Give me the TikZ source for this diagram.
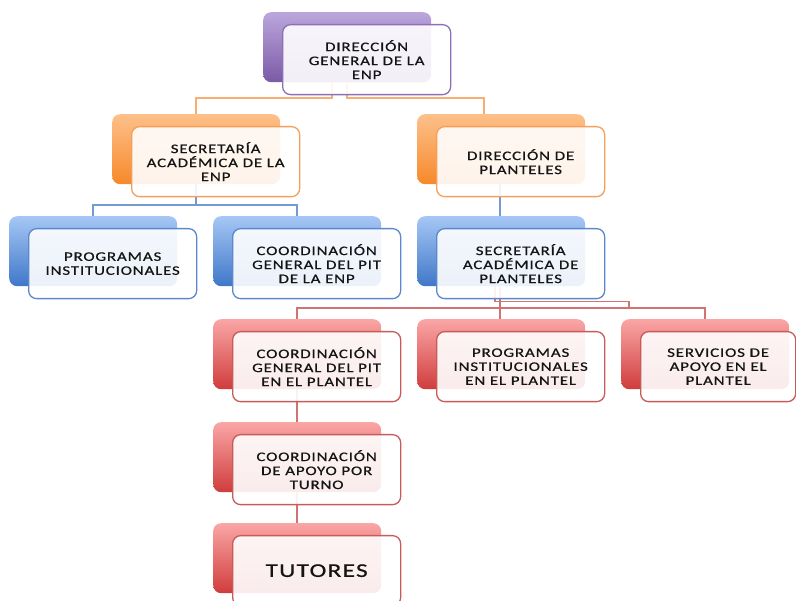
\documentclass[tikz,border=0pt]{standalone}
\usepackage{fontspec}
\setmainfont{Carlito}
\newfontfamily\boxfont[FakeStretch=1.3,LetterSpace=6.5,FakeBold=0.6]{Carlito}
\usetikzlibrary{calc}
\definecolor{ptop}{HTML}{BBA6DC}
\definecolor{pbot}{HTML}{7B5AA6}
\definecolor{pline}{HTML}{8C6FB5}
\definecolor{otop}{HTML}{FDC08A}
\definecolor{obot}{HTML}{F6892A}
\definecolor{oline}{HTML}{F5A05A}
\definecolor{btop}{HTML}{A6C7F5}
\definecolor{bbot}{HTML}{3F77C8}
\definecolor{bline}{HTML}{5A88CC}
\definecolor{rtop}{HTML}{FAA6A6}
\definecolor{rbot}{HTML}{D03C3C}
\definecolor{rline}{HTML}{C85A5A}
\definecolor{txt}{HTML}{141414}
\pgfdeclarelayer{bg}
\pgfsetlayers{bg,main}
\tikzset{
  backbox/.style={rectangle, rounded corners=8pt, minimum width=168pt, minimum height=70pt,
    anchor=north west, inner sep=0pt},
  frontbox/.style={rectangle, rounded corners=8pt, minimum width=168pt, minimum height=70pt,
    anchor=north west, fill=white, fill opacity=0.9, text opacity=1, line width=1.3pt,
    align=center, text=txt, font=\boxfont\fontsize{13}{14}\selectfont, inner sep=2pt},
  conn/.style={line width=1.6pt},
  oconn/.style={conn, draw=oline!85},
  bconn/.style={conn, draw=bline!85},
  rconn/.style={conn, draw=rline!85},
}
\newcommand\orgbox[5]{%
  \node[backbox, top color=#4top, bottom color=#4bot] (b#1) at (#2,#3) {};
  \node[frontbox, draw=#4line] (f#1) at ($(#2,#3)+(19,12)$) {#5};
}
\begin{document}
\begin{tikzpicture}[x=1pt,y=-1pt]
\useasboundingbox (0,0) rectangle (796,601);
\clip (0,0) rectangle (796,601);
\orgbox{1}{263}{12}{p}{DIRECCIÓN\\GENERAL DE LA\\ENP}
\orgbox{2}{112}{114}{o}{SECRETARÍA\\ACADÉMICA DE LA\\ENP}
\orgbox{3}{417}{114}{o}{DIRECCIÓN  DE\\PLANTELES}
\orgbox{4}{9}{216}{b}{PROGRAMAS\\INSTITUCIONALES}
\orgbox{5}{213}{216}{b}{COORDINACIÓN\\GENERAL DEL PIT\\DE LA ENP}
\orgbox{6}{417}{216}{b}{SECRETARÍA\\ACADÉMICA DE\\PLANTELES}
\orgbox{7}{213}{319}{r}{COORDINACIÓN\\GENERAL DEL PIT\\EN EL PLANTEL}
\orgbox{8}{417}{319}{r}{PROGRAMAS\\INSTITUCIONALES\\EN EL PLANTEL}
\node[backbox, top color=rtop, bottom color=rbot] (b9) at (621,319) {};
\node[frontbox, draw=rline, minimum width=155pt] (f9) at (640,331) {SERVICIOS DE\\APOYO  EN EL\\PLANTEL};
\orgbox{10}{213}{422}{r}{COORDINACIÓN\\DE APOYO POR\\TURNO}
\orgbox{11}{213}{523}{r}{\fontsize{19.5}{20}\selectfont TUTORES}
\begin{pgfonlayer}{bg}
  \draw[oconn] ($(b1.south)+(-15,0)$) |- ($(b2.north)+(0,-16)$) -- (b2.north);
  \draw[oconn] (b1.south) |- ($(b3.north)+(-17,-16)$) -- ($(b3.north)+(-17,0)$);
  \draw[bconn] (b2.south) |- ($(b4.north)+(0,-11)$) -- (b4.north);
  \draw[bconn] (b2.south) |- ($(b5.north)+(0,-11)$) -- (b5.north);
  \draw[bconn] ($(b3.south)+(-1,0)$) -- ($(b6.north)+(-1,0)$);
  \draw[rconn] (b7.north) -- ++(0,-11) -| (b9.north);
  \draw[rconn] ($(b6.south)+(-1,0)$) -- ($(b8.north)+(-1,0)$);
  \draw[rconn] ($(b6.south)+(-6,0)$) |- ($(b6.south)+(128,15)$) -- ($(b6.south)+(128,22)$);
  \draw[rconn] (b7.south) -- (b10.north);
  \draw[rconn] (b10.south) -- (b11.north);
\end{pgfonlayer}
\end{tikzpicture}
\end{document}
